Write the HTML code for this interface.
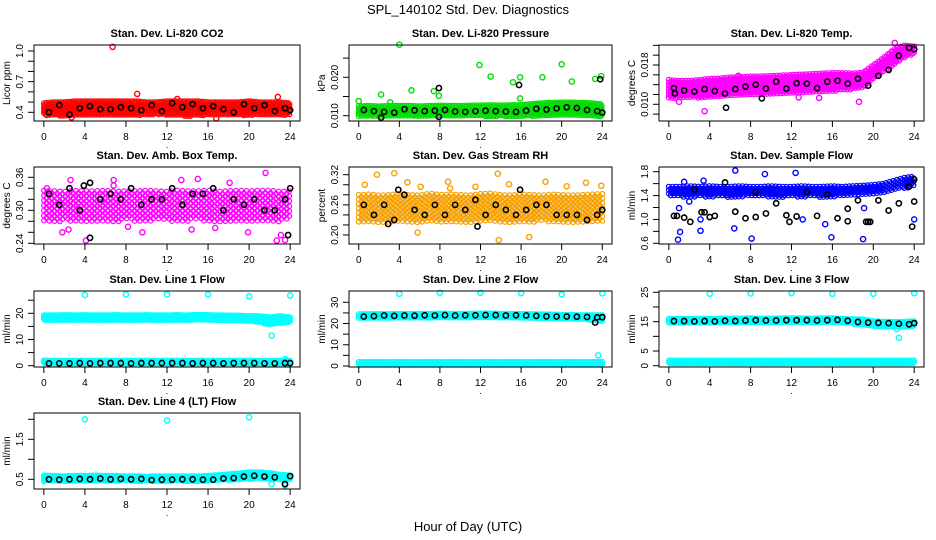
<!DOCTYPE html>
<html><head><meta charset="utf-8"><title>SPL_140102 Std. Dev. Diagnostics</title>
<style>
html,body{margin:0;padding:0;background:#fff;}
svg{display:block;font-family:"Liberation Sans",sans-serif;}
</style></head>
<body>
<svg id="chart" width="936" height="540" viewBox="0 0 936 540">
<rect x="0" y="0" width="936" height="540" fill="#fff"/>
<text x="468" y="14" text-anchor="middle" font-size="13">SPL_140102  Std. Dev. Diagnostics</text>
<text x="468" y="531" text-anchor="middle" font-size="13">Hour of Day (UTC)</text>
</svg>
<script>
// ---------- data ----------
const knots = [0,1,2,3,4,5,6,7,8,9,10,11,12,13,14,15,16,17,18,19,20,21,22,23,24];
const meanHours = [0.5,1.5,2.5,3.5,4.5,5.5,6.5,7.5,8.5,9.5,10.5,11.5,12.5,13.5,14.5,15.5,16.5,17.5,18.5,19.5,20.5,21.5,22.5,23.5,24];
const xTicks = [0,4,8,12,16,20,24];

const co2Lo = [0.37,0.37,0.36,0.37,0.37,0.37,0.37,0.37,0.37,0.37,0.37,0.38,0.37,0.37,0.36,0.37,0.37,0.37,0.37,0.37,0.37,0.37,0.37,0.37,0.37];
const co2Hi = [0.49,0.50,0.50,0.51,0.51,0.51,0.51,0.51,0.51,0.51,0.50,0.50,0.51,0.51,0.51,0.51,0.50,0.50,0.50,0.50,0.51,0.50,0.50,0.50,0.49];
const co2Mean = [0.40,0.47,0.38,0.44,0.46,0.43,0.43,0.45,0.44,0.42,0.47,0.41,0.49,0.45,0.48,0.44,0.46,0.43,0.40,0.48,0.44,0.47,0.41,0.44,0.42];
const co2OutX = [6.7,9.1,22.8,13.0,16.8,2.7];
const co2OutY = [1.04,0.58,0.55,0.53,0.34,0.35];

const presLo = [0.0098,0.0097,0.0097,0.0098,0.0098,0.0098,0.0097,0.0098,0.0098,0.0097,0.0098,0.0098,0.0098,0.0098,0.0098,0.0097,0.0098,0.0098,0.0099,0.0100,0.0100,0.0100,0.0099,0.0098,0.0096];
const presHi = [0.0125,0.0126,0.0125,0.0126,0.0126,0.0126,0.0125,0.0126,0.0127,0.0126,0.0126,0.0127,0.0127,0.0128,0.0127,0.0128,0.0128,0.0131,0.0133,0.0134,0.0135,0.0135,0.0134,0.0133,0.0130];
const presMean = [0.0115,0.0112,0.0110,0.0108,0.0117,0.0114,0.0112,0.0113,0.0115,0.0111,0.0110,0.0112,0.0113,0.0112,0.0111,0.0110,0.0113,0.0118,0.0116,0.0119,0.0122,0.0120,0.0115,0.0112,0.0108];
const presOutX = [0,2.2,3.1,4,5.2,7.4,7.9,11.9,13,15.2,15.9,15.9,18.1,20,21,23.3,23.9];
const presOutY = [0.0138,0.0155,0.0135,0.0285,0.0166,0.0164,0.0152,0.0232,0.0202,0.0187,0.0200,0.0145,0.0200,0.0234,0.0189,0.0196,0.0203];
const presBlkX = [7.9,15.8,23.8,2.2,7.9];
const presBlkY = [0.0172,0.0180,0.0195,0.0095,0.0097];

const tempLo = [0.0110,0.0112,0.0112,0.0113,0.0113,0.0115,0.0117,0.0118,0.0120,0.0120,0.0121,0.0122,0.0123,0.0124,0.0125,0.0126,0.0127,0.0128,0.0130,0.0132,0.0150,0.0165,0.0180,0.0195,0.0200];
const tempHi = [0.0150,0.0148,0.0148,0.0150,0.0152,0.0153,0.0155,0.0156,0.0157,0.0157,0.0158,0.0159,0.0160,0.0161,0.0162,0.0163,0.0164,0.0164,0.0163,0.0165,0.0180,0.0195,0.0212,0.0220,0.0218];
const tempMean = [0.0133,0.0128,0.0126,0.0131,0.0127,0.0122,0.0131,0.0136,0.0140,0.0132,0.0146,0.0132,0.0143,0.0142,0.0133,0.0146,0.0148,0.0142,0.0152,0.0138,0.0158,0.0170,0.0199,0.0215,0.0212];
const tempOutX = [3.5,1.0,6.8,18.6,12.7,14.7,22.1];
const tempOutY = [0.0086,0.0105,0.0158,0.0105,0.0114,0.0113,0.0225];
const tempBlkX = [5.6,9.1,0.6];
const tempBlkY = [0.0093,0.0112,0.0122];

const ambLo = [0.280,0.279,0.280,0.281,0.279,0.280,0.280,0.279,0.281,0.280,0.280,0.281,0.280,0.279,0.280,0.281,0.280,0.279,0.280,0.281,0.280,0.279,0.280,0.279,0.282];
const ambHi = [0.336,0.335,0.334,0.336,0.335,0.335,0.336,0.334,0.335,0.335,0.336,0.335,0.334,0.336,0.335,0.335,0.336,0.334,0.335,0.336,0.335,0.336,0.336,0.334,0.335];
const ambMean = [0.33,0.31,0.34,0.30,0.35,0.32,0.33,0.32,0.34,0.31,0.32,0.32,0.34,0.31,0.33,0.33,0.34,0.30,0.32,0.31,0.32,0.30,0.30,0.32,0.34];
const ambOutX = [1.8,4.1,2.4,6.8,6.8,8.2,9.6,14.4,15.0,16.7,18.1,19.9,21.6,22.7,23.1,23.5,13.4,2.6,0.3];
const ambOutY = [0.260,0.245,0.265,0.355,0.345,0.270,0.260,0.265,0.357,0.268,0.350,0.260,0.368,0.245,0.255,0.246,0.355,0.355,0.340];
const ambBlkX = [4.5,23.8,3.9];
const ambBlkY = [0.250,0.255,0.345];

const rhLo = [0.225,0.224,0.225,0.226,0.225,0.224,0.225,0.225,0.226,0.225,0.224,0.225,0.225,0.226,0.225,0.224,0.225,0.225,0.226,0.225,0.224,0.225,0.225,0.226,0.225];
const rhHi = [0.280,0.281,0.279,0.280,0.282,0.280,0.279,0.283,0.280,0.281,0.280,0.279,0.282,0.283,0.280,0.279,0.281,0.280,0.279,0.281,0.280,0.279,0.280,0.281,0.282];
const rhMean = [0.26,0.24,0.26,0.23,0.28,0.25,0.24,0.26,0.24,0.26,0.25,0.27,0.24,0.26,0.25,0.24,0.25,0.26,0.26,0.24,0.24,0.24,0.23,0.24,0.25];
const rhOutX = [0.6,1.8,3.5,4.8,6.1,11.5,13.7,13.8,14.8,16.8,18.4,20.5,22.4,23.9,9.0,5.8,8.8];
const rhOutY = [0.300,0.320,0.323,0.305,0.296,0.296,0.322,0.190,0.301,0.196,0.306,0.297,0.304,0.298,0.293,0.205,0.306];
const rhBlkX = [3.9,15.9,11.7,2.9];
const rhBlkY = [0.290,0.290,0.217,0.222];

const flowLo = [1.38,1.38,1.37,1.38,1.38,1.38,1.37,1.38,1.38,1.38,1.38,1.37,1.38,1.38,1.38,1.37,1.38,1.38,1.39,1.40,1.42,1.45,1.50,1.52,1.55];
const flowHi = [1.55,1.55,1.56,1.55,1.56,1.55,1.55,1.56,1.55,1.55,1.56,1.55,1.55,1.56,1.55,1.55,1.56,1.55,1.56,1.57,1.58,1.60,1.65,1.70,1.72];
const flowMean = [1.06,1.03,1.50,1.12,1.06,1.62,1.13,1.02,1.46,1.10,1.27,1.07,1.05,1.46,1.06,1.42,1.02,1.18,1.32,0.96,1.32,1.15,1.27,1.55,1.67];
const flowOutX = [0.9,1.1,1.0,3.1,3.1,6.4,6.5,8.1,12.4,15.3,15.9,19.0,19.1,24.0,13.1,9.4,2.0,1.5,3.4];
const flowOutY = [0.66,0.79,1.19,0.81,1.00,0.85,1.82,0.68,1.78,0.92,0.70,0.67,1.19,1.00,1.00,1.76,1.30,1.63,1.65];
const flowBlkX = [0.8,2.1,4.0,11.8,17.5,19.3,19.7,23.8,24.0,8.5,3.2];
const flowBlkY = [1.06,0.96,1.04,0.96,0.97,0.96,0.96,0.88,1.30,1.04,1.12];

const l1UpLo = [17.3,17.3,17.2,17.3,17.3,17.3,17.3,17.2,17.3,17.3,17.3,17.3,17.3,17.3,17.2,17.3,17.3,17.3,17.2,17.2,17.0,16.5,15.5,16.0,16.5];
const l1UpHi = [19.3,19.3,19.4,19.3,19.4,19.3,19.3,19.4,19.3,19.3,19.4,19.3,19.3,19.4,19.3,19.5,19.4,19.3,19.2,19.2,19.0,19.0,18.5,19.0,18.5];
const l1LoLo = [0.8,0.8,0.8,0.8,0.8,0.8,0.8,0.8,0.8,0.8,0.8,0.8,0.8,0.8,0.8,0.8,0.8,0.8,0.8,0.8,0.8,0.8,0.8,0.8,0.8];
const l1LoHi = [2.0,2.0,2.0,2.0,2.0,2.0,2.0,2.0,2.0,2.0,2.0,2.0,2.0,2.0,2.0,2.0,2.0,2.0,2.0,2.0,2.0,2.0,2.0,2.0,2.0];
const l1Mean = [0.9,0.9,0.9,1.0,0.9,1.0,1.0,1.0,0.9,1.0,1.0,1.0,1.0,1.0,0.9,1.0,1.0,0.9,1.0,1.0,1.0,0.9,0.9,1.0,1.0];
const l1OutX = [4,8,12,16,20,24,22.2,23.5,0];
const l1OutY = [27.0,27.2,27.2,27.2,26.5,26.8,11.5,2.5,1.8];

const l2UpLo = [22.5,22.5,22.6,22.5,22.6,22.6,22.7,22.6,22.7,22.6,22.7,22.7,22.8,22.7,22.6,22.7,22.6,22.5,22.4,22.3,22.2,22.1,21.8,21.5,21.0];
const l2UpHi = [24.5,24.5,24.6,24.5,24.7,24.6,24.7,24.6,24.8,24.7,24.7,24.7,24.8,24.8,24.7,24.7,24.6,24.5,24.4,24.3,24.2,24.2,24.0,24.0,24.0];
const l2LoLo = [0.3,0.3,0.3,0.3,0.3,0.3,0.3,0.3,0.3,0.3,0.3,0.3,0.3,0.3,0.3,0.3,0.3,0.3,0.3,0.3,0.3,0.3,0.3,0.3,0.3];
const l2LoHi = [2.0,2.0,2.0,2.0,2.0,2.0,2.0,2.0,2.0,2.0,2.0,2.0,2.0,2.0,2.0,2.0,2.0,2.0,2.0,2.0,2.0,2.0,2.0,2.0,2.0];
const l2Mean = [23.3,23.5,23.8,23.6,23.8,23.7,23.9,23.8,24.0,23.8,23.9,23.9,24.0,24.0,23.8,23.9,23.8,23.6,23.4,23.3,23.3,23.2,23.1,22.9,23.0];
const l2OutX = [4,8,12,16,20,24,23.6];
const l2OutY = [34.0,34.5,34.5,34.3,33.8,34.2,5.0];
const l2BlkX = [23.3];
const l2BlkY = [20.5];

const l3UpLo = [14.5,14.5,14.5,14.6,14.5,14.5,14.6,14.6,14.7,14.6,14.6,14.7,14.7,14.7,14.6,14.7,14.7,14.5,14.2,14.0,13.2,13.0,13.0,13.0,13.5];
const l3UpHi = [16.0,16.0,16.0,16.1,16.0,16.1,16.1,16.1,16.2,16.1,16.1,16.2,16.2,16.2,16.1,16.2,16.2,16.0,15.9,15.8,15.2,15.0,15.0,15.0,15.2];
const l3LoLo = [0.5,0.5,0.5,0.5,0.5,0.5,0.5,0.5,0.5,0.5,0.5,0.5,0.5,0.5,0.5,0.5,0.5,0.5,0.5,0.5,0.5,0.5,0.5,0.5,0.5];
const l3LoHi = [1.8,1.8,1.8,1.8,1.8,1.8,1.8,1.8,1.8,1.8,1.8,1.8,1.8,1.8,1.8,1.8,1.8,1.8,1.8,1.8,1.8,1.8,1.8,1.8,1.8];
const l3Mean = [15.2,15.2,15.1,15.2,15.1,15.3,15.2,15.4,15.5,15.4,15.4,15.5,15.5,15.5,15.4,15.5,15.6,15.3,14.9,14.7,14.6,14.5,14.3,14.1,14.5];
const l3OutX = [4,8,12,16,20,24,22.5,22.3];
const l3OutY = [24.5,24.6,24.7,24.5,24.5,24.7,9.5,12.5];

const l4Lo = [0.45,0.45,0.45,0.46,0.45,0.46,0.45,0.46,0.46,0.45,0.45,0.45,0.45,0.46,0.45,0.45,0.46,0.47,0.48,0.50,0.50,0.51,0.50,0.48,0.50];
const l4Hi = [0.60,0.59,0.58,0.59,0.59,0.60,0.59,0.59,0.58,0.58,0.57,0.58,0.58,0.58,0.58,0.58,0.59,0.61,0.63,0.65,0.68,0.68,0.66,0.62,0.60];
const l4Mean = [0.50,0.49,0.50,0.51,0.50,0.52,0.50,0.51,0.50,0.51,0.48,0.49,0.49,0.50,0.50,0.49,0.49,0.52,0.53,0.57,0.59,0.57,0.55,0.38,0.58];
const l4OutX = [4,12,20,22.2,23.5];
const l4OutY = [2.00,1.97,2.05,0.38,0.35];

// ---------- layout ----------
const NS = "http://www.w3.org/2000/svg";
const svg = document.getElementById("chart");
const panels = [
 {key:"co2",title:"Stan. Dev. Li-820 CO2",yt:"Licor ppm",l:34,t:45,w:266,h:76,r:[0.4,112.3,1.0,51],ticks:[0.4,0.5,0.6,0.7,0.8,0.9,1.0],labs:[0.4,0.7,1.0],fmt:1,col:"#ff0000",bands:[[co2Lo,co2Hi]],step:2.5,xs:0.14,mean:co2Mean,ox:co2OutX,oy:co2OutY,bx:[],by:[]},
 {key:"pressure",title:"Stan. Dev. Li-820 Pressure",yt:"kPa",l:349,t:45,w:263,h:76,r:[0.010,115.7,0.020,77.3],ticks:[0.010,0.015,0.020,0.025],labs:[0.010,0.020],fmt:3,col:"#00dd00",bands:[[presLo,presHi]],step:2.5,xs:0.14,mean:presMean,ox:presOutX,oy:presOutY,bx:presBlkX,by:presBlkY},
 {key:"li820-temp",title:"Stan. Dev. Li-820 Temp.",yt:"degrees C",l:659,t:45,w:265,h:76,r:[0.010,104.3,0.018,65],ticks:[0.008,0.010,0.012,0.014,0.016,0.018,0.020,0.022],labs:[0.010,0.018],fmt:3,col:"#ff00ff",bands:[[tempLo,tempHi]],step:3,xs:0.16,mean:tempMean,ox:tempOutX,oy:tempOutY,bx:tempBlkX,by:tempBlkY},
 {key:"amb-box-temp",title:"Stan. Dev. Amb. Box Temp.",yt:"degrees C",l:34,t:167,w:266,h:77,r:[0.24,243.3,0.36,177.3],ticks:[0.24,0.26,0.28,0.30,0.32,0.34,0.36],labs:[0.24,0.30,0.36],fmt:2,col:"#ff00ff",bands:[[ambLo,ambHi]],step:5,xs:0.26,mean:ambMean,ox:ambOutX,oy:ambOutY,bx:ambBlkX,by:ambBlkY},
 {key:"gas-rh",title:"Stan. Dev. Gas Stream RH",yt:"percent",l:349,t:167,w:263,h:77,r:[0.20,235,0.32,174.7],ticks:[0.20,0.22,0.24,0.26,0.28,0.30,0.32],labs:[0.20,0.26,0.32],fmt:2,col:"#f5a000",bands:[[rhLo,rhHi]],step:4.5,xs:0.24,mean:rhMean,ox:rhOutX,oy:rhOutY,bx:rhBlkX,by:rhBlkY},
 {key:"sample-flow",title:"Stan. Dev. Sample Flow",yt:"ml/min",l:659,t:167,w:265,h:77,r:[0.6,243.3,1.8,171.7],ticks:[0.6,0.8,1.0,1.2,1.4,1.6,1.8],labs:[0.6,1.0,1.4,1.8],fmt:1,col:"#0000ff",bands:[[flowLo,flowHi]],step:3.5,xs:0.18,mean:flowMean,ox:flowOutX,oy:flowOutY,bx:flowBlkX,by:flowBlkY},
 {key:"line1-flow",title:"Stan. Dev. Line 1 Flow",yt:"ml/min",l:34,t:291,w:266,h:76,r:[0,365.7,20,313.3],ticks:[0,5,10,15,20,25],labs:[0,10,20],fmt:0,col:"#00ffff",bands:[[l1UpLo,l1UpHi],[l1LoLo,l1LoHi]],step:2,xs:0.12,mean:l1Mean,ox:l1OutX,oy:l1OutY,bx:[],by:[]},
 {key:"line2-flow",title:"Stan. Dev. Line 2 Flow",yt:"ml/min",l:349,t:291,w:263,h:76,r:[0,366,30,302.3],ticks:[0,5,10,15,20,25,30],labs:[0,10,20,30],fmt:0,col:"#00ffff",bands:[[l2UpLo,l2UpHi],[l2LoLo,l2LoHi]],step:2,xs:0.12,mean:l2Mean,ox:l2OutX,oy:l2OutY,bx:l2BlkX,by:l2BlkY},
 {key:"line3-flow",title:"Stan. Dev. Line 3 Flow",yt:"ml/min",l:659,t:291,w:265,h:76,r:[0,365.7,25,292.3],ticks:[0,5,10,15,20,25],labs:[0,5,15,25],fmt:0,col:"#00ffff",bands:[[l3UpLo,l3UpHi],[l3LoLo,l3LoHi]],step:2,xs:0.12,mean:l3Mean,ox:l3OutX,oy:l3OutY,bx:[],by:[]},
 {key:"line4-flow",title:"Stan. Dev. Line 4 (LT) Flow",yt:"ml/min",l:34,t:413,w:266,h:76,r:[0.5,479.3,1.5,439.3],ticks:[0.5,1.0,1.5,2.0],labs:[0.5,1.5],fmt:1,col:"#00ffff",bands:[[l4Lo,l4Hi]],step:2,xs:0.12,mean:l4Mean,ox:l4OutX,oy:l4OutY,bx:[],by:[]}
];

function mk(tag, attrs, parent){
  const e = document.createElementNS(NS, tag);
  for (const k in attrs) e.setAttribute(k, attrs[k]);
  (parent||svg).appendChild(e);
  return e;
}
function interp(arr, h){
  const i = Math.min(Math.floor(h), 23);
  const f = h - i;
  return arr[i]*(1-f) + arr[i+1]*f;
}

panels.forEach(p => {
  const g = mk("g", {});
  
  
  const X = h => p.l + (h + 0.96) / 25.92 * p.w;
  const Y = v => p.r[1] + (v - p.r[0]) * (p.r[3] - p.r[1]) / (p.r[2] - p.r[0]);
  const B = p.t + p.h;

  const tt = mk("text", {x: p.l + p.w/2, y: p.t - 8, "text-anchor":"middle", "font-size":"11", "font-weight":"bold"}, g);
  tt.textContent = p.title;
  
  

  const dg = mk("g", {fill:"none"}, g);
  
  
  p.bands.forEach(b => {
    let k = 0;
    for (let h = 0; h <= 24.0001; h += p.xs) {
      const yHi = Y(interp(b[1], h)), yLo = Y(interp(b[0], h));
      const off = (k % 2) * p.step / 2;
      k++;
      for (let y = yHi + off; y <= yLo; y += p.step) {
        const c = mk("circle", {cx: X(h).toFixed(1), cy: y.toFixed(1), r: 2.3, stroke: p.col, "stroke-width": 1.2}, dg);
        
        
      }
    }
  });
  p.ox.forEach((h, i) => {
    const c = mk("circle", {cx: X(h), cy: Y(p.oy[i]), r: 2.6, stroke: p.col, "stroke-width": 1.4}, dg);
    
    
  });
  meanHours.forEach((h, i) => {
    const c = mk("circle", {cx: X(h), cy: Y(p.mean[i]), r: 2.6, stroke: "#000", "stroke-width": 1.6}, dg);
    
    
  });
  p.bx.forEach((h, i) => {
    const c = mk("circle", {cx: X(h), cy: Y(p.by[i]), r: 2.6, stroke: "#000", "stroke-width": 1.6}, dg);
    
    
  });

  const box = mk("rect", {x: p.l, y: p.t, width: p.w, height: p.h, fill: "none", stroke: "#000", "stroke-width": 1}, g);
  
  

  const xa = mk("g", {stroke:"#000", "stroke-width":1}, g);
  
  
  mk("line", {x1: X(0), x2: X(24), y1: B, y2: B}, xa);
  xTicks.forEach(v => {
    mk("line", {x1: X(v), x2: X(v), y1: B, y2: B + 6}, xa);
    const t = mk("text", {x: X(v), y: B + 19, "text-anchor":"middle", "font-size":"10", stroke:"none", fill:"#000"}, g);
    t.textContent = v;
    
    
  });
  const dot = mk("text", {x: p.l + p.w/2, y: B + 27, "text-anchor":"middle", "font-size":"9"}, g);
  dot.textContent = ".";
  
  

  const ya = mk("g", {stroke:"#000", "stroke-width":1}, g);
  
  
  const tv = p.ticks.filter(v => Y(v) >= p.t - 0.5 && Y(v) <= B + 0.5);
  mk("line", {x1: p.l, x2: p.l, y1: Y(tv[0]), y2: Y(tv[tv.length-1])}, ya);
  tv.forEach(v => mk("line", {x1: p.l - 6, x2: p.l, y1: Y(v), y2: Y(v)}, ya));
  p.labs.forEach(v => {
    const x = p.l - 11, y = Y(v);
    const t = mk("text", {x: x, y: y, "text-anchor":"middle", "font-size":"10", transform:`rotate(-90 ${x} ${y})`}, g);
    t.textContent = v.toFixed(p.fmt);
    
    
  });
  const yx = p.l - 24, yy = p.t + p.h/2;
  const yt = mk("text", {x: yx, y: yy, "text-anchor":"middle", "font-size":"10", transform:`rotate(-90 ${yx} ${yy})`}, g);
  yt.textContent = p.yt;
  
  
});
</script>
</body></html>
